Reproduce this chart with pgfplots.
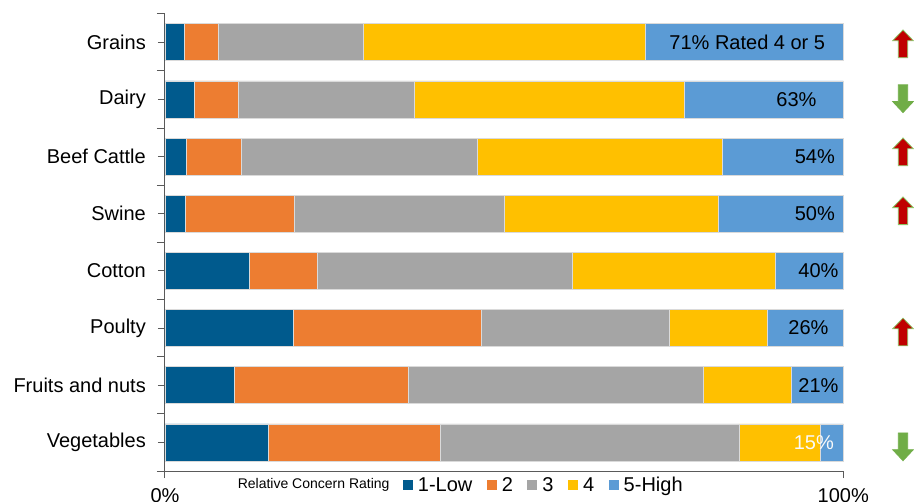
\documentclass[border=0pt]{standalone}
\usepackage{pgfplots}
\usepackage{pgfplotstable}
\pgfplotsset{compat=1.18}
\usepackage{fontspec}
\setmainfont{Liberation Sans}

\definecolor{lowblue}{RGB}{0,90,141}
\definecolor{ratetwo}{RGB}{237,125,49}
\definecolor{ratethree}{RGB}{165,165,165}
\definecolor{ratefour}{RGB}{255,192,0}
\definecolor{highblue}{RGB}{91,155,213}
\definecolor{barline}{RGB}{218,218,218}
\definecolor{axisgray}{RGB}{90,90,90}
\definecolor{arrowred}{RGB}{192,0,0}
\definecolor{arrowgreen}{RGB}{112,173,71}
\definecolor{arrowedge}{RGB}{140,195,100}

% trend arrows used as plot marks
\pgfdeclareplotmark{trendup}{%
  \pgfpathmoveto{\pgfqpoint{0pt}{14pt}}%
  \pgfpathlineto{\pgfqpoint{10.3pt}{3.3pt}}%
  \pgfpathlineto{\pgfqpoint{4.7pt}{3.3pt}}%
  \pgfpathlineto{\pgfqpoint{4.7pt}{-13.7pt}}%
  \pgfpathlineto{\pgfqpoint{-4.7pt}{-13.7pt}}%
  \pgfpathlineto{\pgfqpoint{-4.7pt}{3.3pt}}%
  \pgfpathlineto{\pgfqpoint{-10.3pt}{3.3pt}}%
  \pgfpathclose
  \pgfusepathqfillstroke}
\pgfdeclareplotmark{trenddown}{%
  \pgfpathmoveto{\pgfqpoint{0pt}{-13.7pt}}%
  \pgfpathlineto{\pgfqpoint{10.3pt}{-2.7pt}}%
  \pgfpathlineto{\pgfqpoint{4.7pt}{-2.7pt}}%
  \pgfpathlineto{\pgfqpoint{4.7pt}{14pt}}%
  \pgfpathlineto{\pgfqpoint{-4.7pt}{14pt}}%
  \pgfpathlineto{\pgfqpoint{-4.7pt}{-2.7pt}}%
  \pgfpathlineto{\pgfqpoint{-10.3pt}{-2.7pt}}%
  \pgfpathclose
  \pgfusepathqfillstroke}

% share of respondents (%) per concern rating; idx 7 = top row
\pgfplotstableread{
idx low two three four high
7 2.80 5.12 21.27 41.58 29.23
6 4.28 6.48 25.99 39.87 23.38
5 3.20 8.11 34.69 36.12 17.88
4 2.95 16.11 30.92 31.55 18.47
3 12.38 10.03 37.59 30.03 9.97
2 18.87 27.76 27.67 14.55 11.15
1 10.17 25.70 43.55 12.87 7.71
0 15.29 25.25 44.13 11.94 3.39
}\concern

% trend direction per row (x in axis units, y = row position)
\pgfplotstableread{
x y
108.8 6.97
108.8 5.08
108.8 4.05
108.8 1.93
}\risingrows
\pgfplotstableread{
x y
108.8 6.01
108.8 -0.08
}\fallingrows

\newcommand{\chartfont}{\fontsize{20}{24}\selectfont}

\pgfplotsset{
  concern frame/.style={
    scale only axis,
    width=678.3pt, height=457.3pt,
    xmin=0, xmax=100,
    ymin=-0.5, ymax=7.5,
    enlargelimits=false,
    clip=false,
  },
}
\tikzset{share label/.style={anchor=east, inner sep=0pt, font=\chartfont}}

\begin{document}
\begin{tikzpicture}
\begin{axis}[
  name=ax,
  concern frame,
  xbar stacked,
  bar width=37pt,
  axis x line*=bottom,
  axis y line*=left,
  axis line style={axisgray, line width=1pt},
  tick align=outside,
  major tick length=7pt,
  minor tick length=8pt,
  tick style={axisgray, line width=1pt},
  xtick={0,100},
  xticklabels={0\%,100\%},
  ytick={0,...,7},
  yticklabels={Vegetables,Fruits and nuts,Poulty,Cotton,Swine,Beef Cattle,Dairy,Grains},
  minor ytick={-0.5,0.5,...,7.5},
  ticklabel style={font=\chartfont, inner sep=0pt},
  yticklabel style={xshift=-12pt},
  xticklabel style={yshift=-10pt},
  legend style={
    at={(0.3504,-0.0306)}, anchor=west,
    draw=none, fill=none, inner sep=0pt,
    nodes={inner sep=0pt},
    font=\chartfont,
    legend columns=-1,
    /tikz/every odd column/.append style={column sep=5pt},
    /tikz/every even column/.append style={column sep=14.5pt},
  },
  legend image code/.code={\fill[#1, draw=none] (0pt,-5pt) rectangle (10pt,5pt);},
]
\addplot[fill=lowblue, draw=barline, line width=0.75pt]   table[x=low,   y=idx] {\concern};
\addlegendentry{1-Low}
\addplot[fill=ratetwo, draw=barline, line width=0.75pt]   table[x=two,   y=idx] {\concern};
\addlegendentry{2}
\addplot[fill=ratethree, draw=barline, line width=0.75pt] table[x=three, y=idx] {\concern};
\addlegendentry{3}
\addplot[fill=ratefour, draw=barline, line width=0.75pt]  table[x=four,  y=idx] {\concern};
\addlegendentry{4}
\addplot[fill=highblue, draw=barline, line width=0.75pt]  table[x=high,  y=idx] {\concern};
\addlegendentry{5-High}

\node[anchor=west, inner sep=0pt, font=\fontsize{14}{16}\selectfont]
  at (axis description cs:0.107,-0.0306) {Relative Concern Rating};
\end{axis}

% trend arrows and share labels, on a transparent axis with the same frame
\begin{axis}[
  concern frame,
  at={(ax.south west)}, anchor=south west,
  axis lines=none,
]
\addplot[only marks, mark=trendup,
  mark options={fill=arrowred, draw=arrowedge, line width=0.8pt}]
  table[x=x, y=y] {\risingrows};
\addplot[only marks, mark=trenddown,
  mark options={fill=arrowgreen, draw=arrowgreen, line width=0.8pt}]
  table[x=x, y=y] {\fallingrows};

% share rated 4 or 5
\node[share label, xshift=-18pt]   at (axis cs:100,7) {71\% Rated 4 or 5};
\node[share label, xshift=-26.6pt] at (axis cs:100,6) {63\%};
\node[share label, xshift=-8.3pt]  at (axis cs:100,5) {54\%};
\node[share label, xshift=-8.3pt]  at (axis cs:100,4) {50\%};
\node[share label, xshift=-4.6pt]  at (axis cs:100,3) {40\%};
\node[share label, xshift=-14.6pt] at (axis cs:100,2) {26\%};
\node[share label, xshift=-4.6pt]  at (axis cs:100,1) {21\%};
\node[share label, xshift=-9.3pt, text=white!95!gray] at (axis cs:100,0) {15\%};
\end{axis}

\pgfresetboundingbox
\path[use as bounding box]
  ([xshift=-165pt,yshift=-30pt]ax.south west)
  rectangle ([xshift=70.7pt,yshift=13.7pt]ax.north east);
\end{tikzpicture}
\end{document}
